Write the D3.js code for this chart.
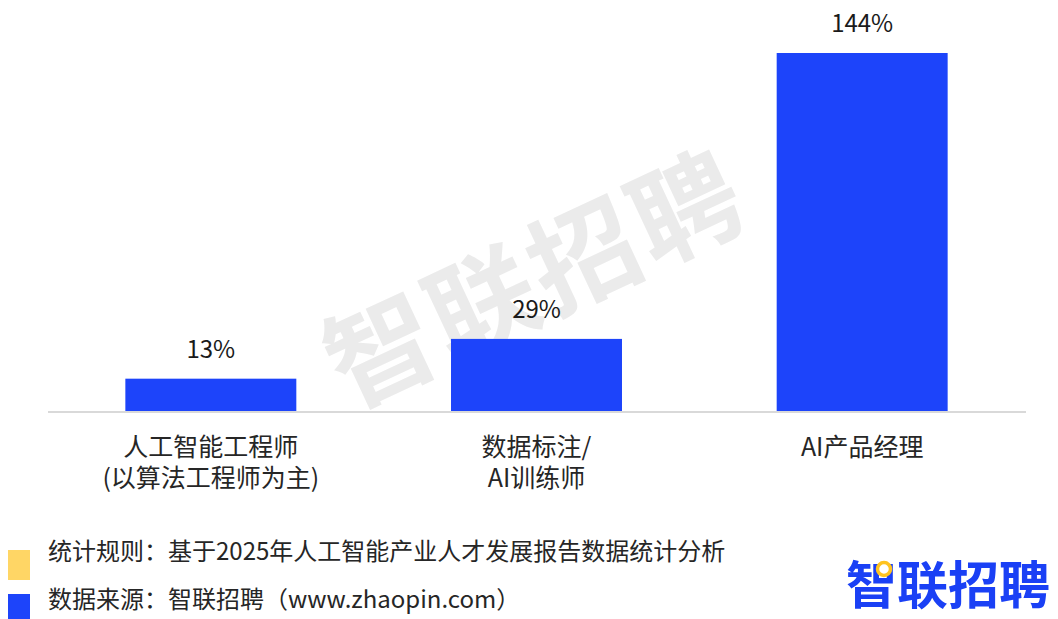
<!DOCTYPE html>
<html lang="zh">
<head>
  <meta charset="UTF-8">
  <title>AI岗位增长</title>
  <script src="https://cdnjs.cloudflare.com/ajax/libs/d3/7.8.5/d3.min.js"></script>
  <style>
    * { margin: 0; padding: 0; box-sizing: border-box; }
    body {
      background: #ffffff;
      width: 1058px;
      height: 619px;
      overflow: hidden;
      font-family: "Noto Sans CJK SC", "Noto Sans", sans-serif;
    }
  </style>
</head>
<body>
<div id="chart"></div>
<script>
  // chart data
  const categories = [
    ["人工智能工程师", "(以算法工程师为主)"],
    ["数据标注/", "AI训练师"],
    ["AI产品经理"]
  ];
  const values = [13, 29, 144];
  const valueLabels = ["13%", "29%", "144%"];
  const notes = [
    "统计规则：基于2025年人工智能产业人才发展报告数据统计分析",
    "数据来源：智联招聘（www.zhaopin.com）"
  ];
  const brand = "智联招聘";

  const width = 1058, height = 619;
  const baseY = 411;
  const blue = "#1d44fa";

  const svg = d3.select("#chart")
    .append("svg")
    .attr("width", width)
    .attr("height", height);

  // watermark behind everything
  svg.append("text")
    .attr("transform", "translate(532,272) rotate(-25)")
    .attr("text-anchor", "middle")
    .attr("dominant-baseline", "central")
    .style("font-size", "108px")
    .style("font-weight", 700)
    .style("letter-spacing", "4px")
    .style("fill", "#ebebeb")
    .text(brand);

  const x = d3.scaleBand()
    .domain(d3.range(values.length))
    .range([48, 1025])
    .paddingInner(0.475)
    .paddingOuter(0.2375);

  const y = d3.scaleLinear()
    .domain([0, d3.max(values)])
    .range([baseY, 53]);

  // bars
  svg.selectAll("rect.bar")
    .data(values)
    .enter()
    .append("rect")
    .attr("class", "bar")
    .attr("x", (d, i) => x(i))
    .attr("y", d => y(d))
    .attr("width", x.bandwidth())
    .attr("height", d => baseY - y(d))
    .attr("fill", blue);

  // baseline
  svg.append("line")
    .attr("x1", 48).attr("x2", 1026)
    .attr("y1", baseY + 1).attr("y2", baseY + 1)
    .attr("stroke", "#d9d9d9")
    .attr("stroke-width", 2);

  // value labels
  svg.selectAll("text.val")
    .data(values)
    .enter()
    .append("text")
    .attr("class", "val")
    .attr("x", (d, i) => x(i) + x.bandwidth() / 2)
    .attr("y", d => y(d) - 21)
    .attr("text-anchor", "middle")
    .style("font-size", "24px")
    .style("fill", "#1a1a1a")
    .text((d, i) => valueLabels[i]);

  // category labels, one text per line
  categories.forEach((lines, i) => {
    lines.forEach((line, j) => {
      svg.append("text")
        .attr("class", "cat")
        .attr("x", x(i) + x.bandwidth() / 2)
        .attr("y", 456 + j * 31)
        .attr("text-anchor", "middle")
        .style("font-size", "25px")
        .style("fill", "#262626")
        .text(line);
    });
  });

  // footer notes
  const noteColors = ["#ffd665", blue];
  notes.forEach((t, i) => {
    svg.append("rect")
      .attr("x", 8)
      .attr("y", 550 + i * 44)
      .attr("width", 22)
      .attr("height", 30)
      .attr("fill", noteColors[i]);
    svg.append("text")
      .attr("x", 48)
      .attr("y", 560 + i * 48)
      .style("font-size", "24px")
      .style("fill", "#262626")
      .text(t);
  });

  // logo
  svg.append("text")
    .attr("x", 1050)
    .attr("y", 604)
    .attr("text-anchor", "end")
    .style("font-size", "51px")
    .style("font-weight", 700)
    .style("fill", "#1a40f5")
    .text(brand);

  svg.append("circle")
    .attr("cx", 884)
    .attr("cy", 569)
    .attr("r", 6.5)
    .attr("fill", "#ffffff")
    .attr("stroke", "#ffc31f")
    .attr("stroke-width", 3.5);
</script>
</body>
</html>
